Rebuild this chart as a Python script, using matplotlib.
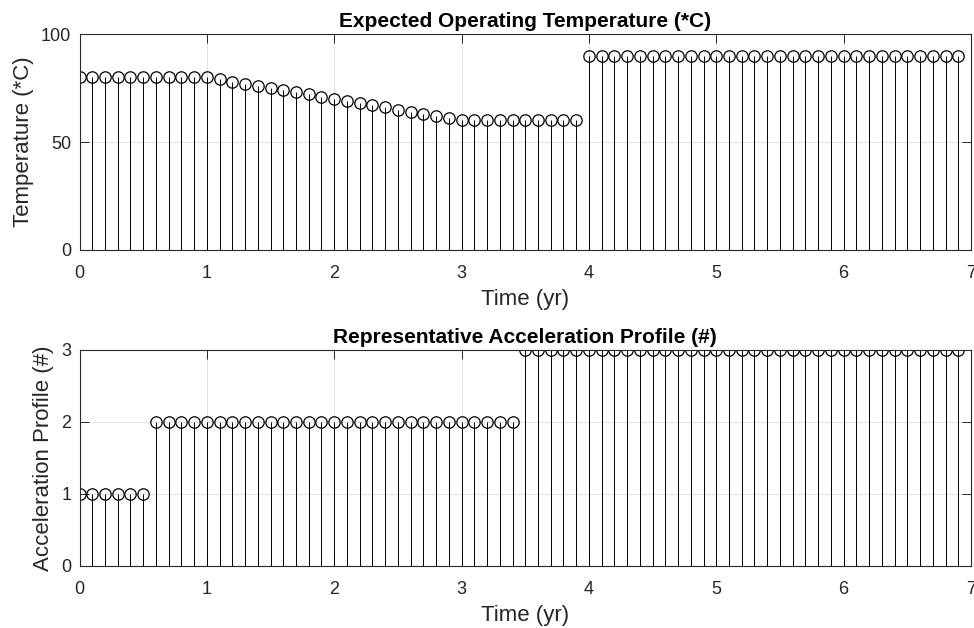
import matplotlib
matplotlib.use("Agg")
import matplotlib.pyplot as plt

plt.rcParams['font.family'] = ['Liberation Sans', 'DejaVu Sans']

time_yr = [round(0.1 * i, 1) for i in range(70)]

temperature = [80, 80, 80, 80, 80, 80, 80, 80, 80, 80, 80,
               79, 78, 77, 76, 75, 74, 73, 72, 71, 70,
               69, 68, 67, 66, 65, 64, 63, 62, 61, 60,
               60, 60, 60, 60, 60, 60, 60, 60, 60,
               90, 90, 90, 90, 90, 90, 90, 90, 90, 90,
               90, 90, 90, 90, 90, 90, 90, 90, 90, 90,
               90, 90, 90, 90, 90, 90, 90, 90, 90, 90]

accel_profile = ([1] * 6) + ([2] * 29) + ([3] * 35)

x_ticks = [0, 1, 2, 3, 4, 5, 6, 7]
temp_ticks = [0, 50, 100]
accel_ticks = [0, 1, 2, 3]

txt = '#262626'
W, H = 974, 628
fig = plt.figure(figsize=(W / 100, H / 100), dpi=100)


def frac(l, t, r, b):
    return [l / W, 1 - b / H, (r - l) / W, (b - t) / H]


ax1 = fig.add_axes(frac(79.5, 34, 971, 250))
ax2 = fig.add_axes(frac(79.5, 350, 971, 566))


def draw(ax, y, ylim, yticks, ylabel, title):
    ml, sl, bl = ax.stem(time_yr, y, basefmt=' ')
    plt.setp(sl, color='black', linewidth=0.7)
    plt.setp(ml, marker='o', markersize=8.2, markerfacecolor='none',
             markeredgecolor='black', markeredgewidth=0.9)
    ax.set_xlim(0, 7)
    ax.set_ylim(*ylim)
    ax.set_xticks(x_ticks)
    ax.set_yticks(yticks)
    ax.grid(True, color='#dcdcdc', linewidth=0.6)
    ax.set_axisbelow(True)
    ax.tick_params(direction='in', length=6.5, width=0.7, top=True, right=True,
                   labelsize=13, colors=txt, color=txt)
    ax.tick_params(axis='x', pad=10.5)
    ax.tick_params(axis='y', pad=6)
    for s in ax.spines.values():
        s.set_color(txt)
        s.set_linewidth(0.8)
    ax.set_xlabel('Time (yr)', fontsize=16, color=txt, labelpad=5)
    ax.set_ylabel(ylabel, fontsize=16, color=txt, labelpad=5)
    ax.set_title(title, fontsize=15, fontweight='bold', color='black', pad=5)


draw(ax1, temperature, (0, 100), temp_ticks, 'Temperature (*C)',
     'Expected Operating Temperature (*C)')
draw(ax2, accel_profile, (0, 3), accel_ticks, 'Acceleration Profile (#)',
     'Representative Acceleration Profile (#)')

fig.savefig('out.png', dpi=100)
